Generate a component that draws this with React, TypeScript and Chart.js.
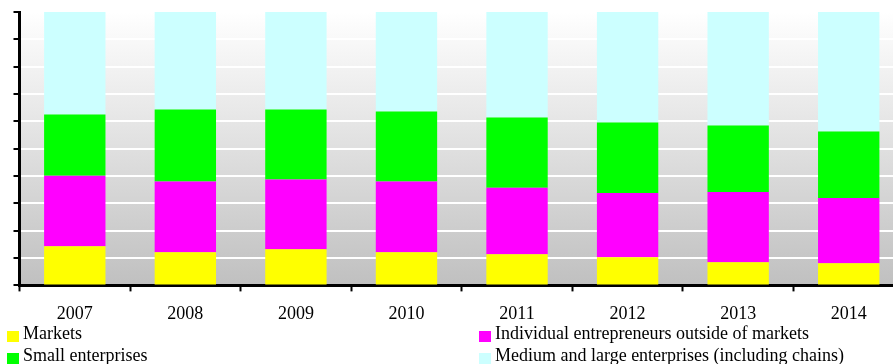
import React, { useEffect, useRef } from "react";
import { Chart, registerables } from "chart.js";

Chart.register(...registerables);

const years = ["2007", "2008", "2009", "2010", "2011", "2012", "2013", "2014"];

// Share of retail turnover by channel, %
const markets = [14.3, 12.1, 13.2, 12.1, 11.4, 10.3, 8.5, 8.1];
const individualOutsideMarkets = [25.8, 25.9, 25.5, 25.9, 24.3, 23.5, 25.7, 23.9];
const smallEnterprises = [22.4, 26.3, 25.6, 25.6, 25.7, 25.8, 24.3, 24.3];
const mediumLargeEnterprises = [37.5, 35.7, 35.7, 36.4, 38.6, 40.4, 41.5, 43.7];

const seriesLabels = [
  "Markets",
  "Individual entrepreneurs outside of markets",
  "Small enterprises",
  "Medium and large enterprises (including chains)",
];
const seriesColors = ["#ffff00", "#ff00ff", "#00ff00", "#ccffff"];

const FONT = "'Liberation Serif', 'Times New Roman', serif";

// Plot area filled with a white-to-grey vertical gradient
const gradientBackground = {
  id: "gradientBackground",
  beforeDraw(chart: any) {
    const { ctx, chartArea } = chart;
    if (!chartArea) return;
    const g = ctx.createLinearGradient(0, chartArea.top, 0, chartArea.bottom);
    g.addColorStop(0, "#ffffff");
    g.addColorStop(1, "#c0c0c0");
    ctx.save();
    ctx.fillStyle = g;
    ctx.fillRect(chartArea.left, chartArea.top, chartArea.right - chartArea.left, chartArea.bottom - chartArea.top);
    ctx.restore();
  },
};

export default function App() {
  const canvasRef = useRef<HTMLCanvasElement>(null);

  useEffect(() => {
    if (!canvasRef.current) return;
    const datasets = [markets, individualOutsideMarkets, smallEnterprises, mediumLargeEnterprises].map(
      (data, i) => ({
        label: seriesLabels[i],
        data,
        backgroundColor: seriesColors[i],
        borderWidth: 0,
        categoryPercentage: 1,
        barPercentage: 0.555,
      })
    );
    const chart = new Chart(canvasRef.current, {
      type: "bar",
      data: { labels: years, datasets },
      options: {
        responsive: false,
        animation: false,
        devicePixelRatio: 1,
        layout: { padding: { left: 13.5, top: 12, right: 2, bottom: 0 } },
        plugins: { legend: { display: false }, tooltip: { enabled: false } },
        scales: {
          x: {
            stacked: true,
            offset: true,
            grid: {
              display: true,
              offset: true,
              drawOnChartArea: false,
              drawTicks: true,
              tickLength: 6,
              tickColor: "#000000",
              tickWidth: 2,
            },
            border: { display: true, color: "#000000", width: 3 },
            ticks: {
              color: "#000000",
              padding: 12,
              font: { family: FONT, size: 18 },
            },
          },
          y: {
            stacked: true,
            min: 0,
            max: 100,
            grid: {
              color: "#ffffff",
              lineWidth: 2,
              drawTicks: true,
              tickLength: 6,
              tickColor: "#000000",
              tickWidth: 2,
            },
            border: { display: true, color: "#000000", width: 3 },
            ticks: { display: false, stepSize: 10 },
          },
        },
      },
      plugins: [gradientBackground],
    });
    return () => chart.destroy();
  }, []);

  const legendItem = (i: number, left: number, top: number) => (
    <div key={i} style={{ position: "absolute", left, top, height: 22 }}>
      <div
        style={{
          position: "absolute",
          left: 0,
          top: 7,
          width: 12,
          height: 11,
          background: seriesColors[i],
        }}
      />
      <span
        style={{
          position: "absolute",
          left: 16,
          top: 0,
          fontFamily: FONT,
          fontSize: 18,
          lineHeight: "18px",
          whiteSpace: "nowrap",
          color: "#000000",
        }}
      >
        {seriesLabels[i]}
      </span>
    </div>
  );

  return (
    <div
      style={{
        position: "absolute",
        left: 0,
        top: 0,
        width: 893,
        height: 364,
        overflow: "hidden",
        background: "#ffffff",
      }}
    >
      <canvas ref={canvasRef} width={906} height={337} style={{ position: "absolute", left: 0, top: 0 }} />
      {legendItem(0, 7, 324)}
      {legendItem(1, 479, 324)}
      {legendItem(2, 7, 346)}
      {legendItem(3, 479, 346)}
    </div>
  );
}
